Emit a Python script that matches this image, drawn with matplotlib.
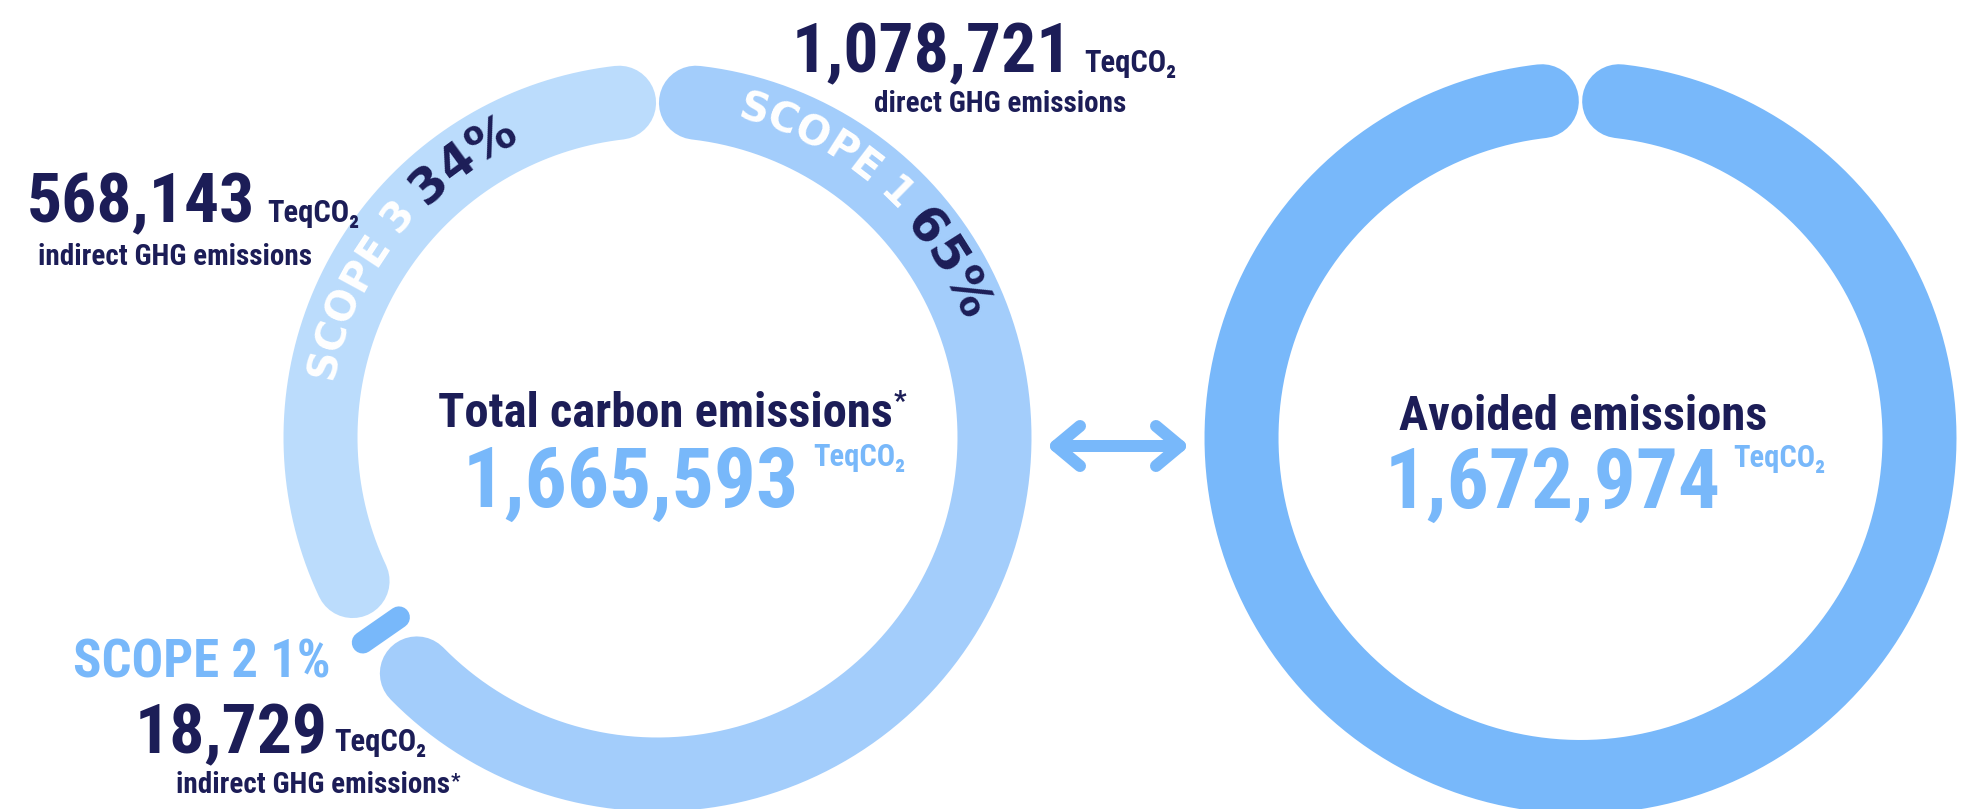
import numpy as np
import matplotlib
matplotlib.use("Agg")
import matplotlib.pyplot as plt
from matplotlib import font_manager

# data
scope_names = ["SCOPE 1", "SCOPE 2", "SCOPE 3"]
scope_values = [1078721, 18729, 568143]
scope_pct = [65, 1, 34]
scope_desc = ["direct GHG emissions", "indirect GHG emissions*", "indirect GHG emissions"]
total_value = 1665593
avoided_value = 1672974
unit = "TeqCO₂"

# colours
navy = "#1c1d57"
c_scope1 = "#a3cdfb"
c_scope3 = "#bbdcfc"
c_blue = "#78b8fa"

avail = {f.name for f in font_manager.fontManager.ttflist}
def pick(*names):
    for n in names:
        if n in avail:
            return n
    return "DejaVu Sans"

narrow = pick("Liberation Sans Narrow", "DejaVu Sans Condensed", "Roboto Condensed", "Liberation Sans")
wide = pick("DejaVu Sans")

W, H = 1967, 809
fig = plt.figure(figsize=(W / 100, H / 100), dpi=100)
ax = fig.add_axes([0, 0, 1, 1])
ax.set_xlim(0, W)
ax.set_ylim(H, 0)
ax.axis("off")
renderer = fig.canvas.get_renderer()

PX = 0.72  # points per pixel at dpi 100


def arc(cx, cy, r, t0, t1, color, width_px, z=1):
    t = np.radians(np.linspace(t0, t1, 400))
    ax.plot(cx + r * np.sin(t), cy - r * np.cos(t), color=color,
            lw=width_px * PX, solid_capstyle="round", zorder=z)


def fmt(v):
    return f"{v:,}"


def txt(x, y, s, size, color, ha="left", va="baseline", fam=None, weight="bold"):
    return ax.text(x, y, s, fontsize=size, color=color, ha=ha, va=va,
                   family=[fam or narrow, "DejaVu Sans"], weight=weight)


def right_edge(t):
    return t.get_window_extent(renderer).x1


def arc_text(cx, cy, r, t0, t1, parts):
    # parts: list of (string, colour, size)
    chars = []
    for s, col, size in parts:
        for ch in s:
            if ch == " ":
                w = size / PX * 0.3
            else:
                tmp = ax.text(0, 0, ch, fontsize=size, weight="bold", family=[wide])
                w = tmp.get_window_extent(renderer).width
                tmp.remove()
            chars.append((ch, col, size, w))
    natural = sum(c[3] for c in chars)
    L = np.radians(t1 - t0) * r
    gap = (L - natural) / (len(chars) - 1)
    s = 0.0
    for ch, col, size, w in chars:
        mid = s + w / 2
        th = t0 + np.degrees(mid / r)
        tr = np.radians(th)
        if ch != " ":
            ax.text(cx + r * np.sin(tr), cy - r * np.cos(tr), ch, fontsize=size,
                    color=col, weight="bold", family=[wide], rotation=-th,
                    rotation_mode="anchor", ha="center", va="center", zorder=5)
        s += w + gap


# ring geometry
cxL, cyL = 657.5, 437.5
cxR, cyR = 1580.5, 438
R = 337
ring_w = 74
cap = np.degrees((ring_w / 2 + 1.5) / R)

frac = np.array(scope_values) / total_value
cum = np.concatenate([[0], np.cumsum(frac)]) * 360
s2_mid = (cum[1] + cum[2]) / 2
side = np.degrees(56.5 / R)

# scope 1 and scope 3 arcs
arc(cxL, cyL, R, cap, s2_mid - side, c_scope1, ring_w)
arc(cxL, cyL, R, s2_mid + side, 360 - cap, c_scope3, ring_w)
# scope 2 small radial pill
tr = np.radians(s2_mid)
rr = np.array([R - 22, R + 22])
ax.plot(cxL + rr * np.sin(tr), cyL - rr * np.cos(tr), color=c_blue,
        lw=22 * PX, solid_capstyle="round", zorder=2)

# avoided ring
arc(cxR, cyR, R + 2, cap, 360 - cap, c_blue, ring_w)

# curved labels
arc_text(cxL, cyL, 340, 14, 69,
         [(scope_names[0] + " ", "white", 29), (f"{scope_pct[0]}%", navy, 35)])
arc_text(cxL, cyL, 340, 280, 335,
         [(scope_names[2] + " ", "white", 29), (f"{scope_pct[2]}%", navy, 35)])

# arrow between the rings
ay = 446
ax.plot([1056, 1180], [ay, ay], color=c_blue, lw=12 * PX, solid_capstyle="round")
ax.plot([1080, 1056, 1080], [ay - 20, ay, ay + 20], color=c_blue, lw=12 * PX,
        solid_capstyle="round", solid_joinstyle="round")
ax.plot([1156, 1180, 1156], [ay - 20, ay, ay + 20], color=c_blue, lw=12 * PX,
        solid_capstyle="round", solid_joinstyle="round")

# scope 1 annotation
t = txt(792, 72, fmt(scope_values[0]), 50, navy)
txt(right_edge(t) + 12, 72, unit, 22, navy)
txt(1000, 112, scope_desc[0], 21, navy, ha="center")

# scope 3 annotation
t = txt(27, 222, fmt(scope_values[2]), 50, navy)
txt(right_edge(t) + 12, 222, unit, 22, navy)
txt(175, 265, scope_desc[2], 21, navy, ha="center")

# scope 2 annotation
txt(73, 677, f"{scope_names[1]} {scope_pct[1]}%", 38, c_blue)
t = txt(135, 753, fmt(scope_values[1]), 50, navy)
txt(right_edge(t) + 6, 751, unit, 22, navy)
t = txt(176, 793, scope_desc[1][:-1], 21, navy)
txt(right_edge(t) + 1, 787, "*", 15, navy)

# centre of left ring
t = txt(665, 427, "Total carbon emissions", 35, navy, ha="center")
txt(right_edge(t) + 1, 410, "*", 20, navy)
t = txt(463, 507, fmt(total_value), 60, c_blue)
txt(right_edge(t) + 14, 466, unit, 22, c_blue)

# centre of right ring
txt(1583, 430, "Avoided emissions", 35, navy, ha="center")
t = txt(1385, 508, fmt(avoided_value), 60, c_blue)
txt(right_edge(t) + 12, 467, unit, 22, c_blue)

fig.savefig("out.png", dpi=100, facecolor="white")
